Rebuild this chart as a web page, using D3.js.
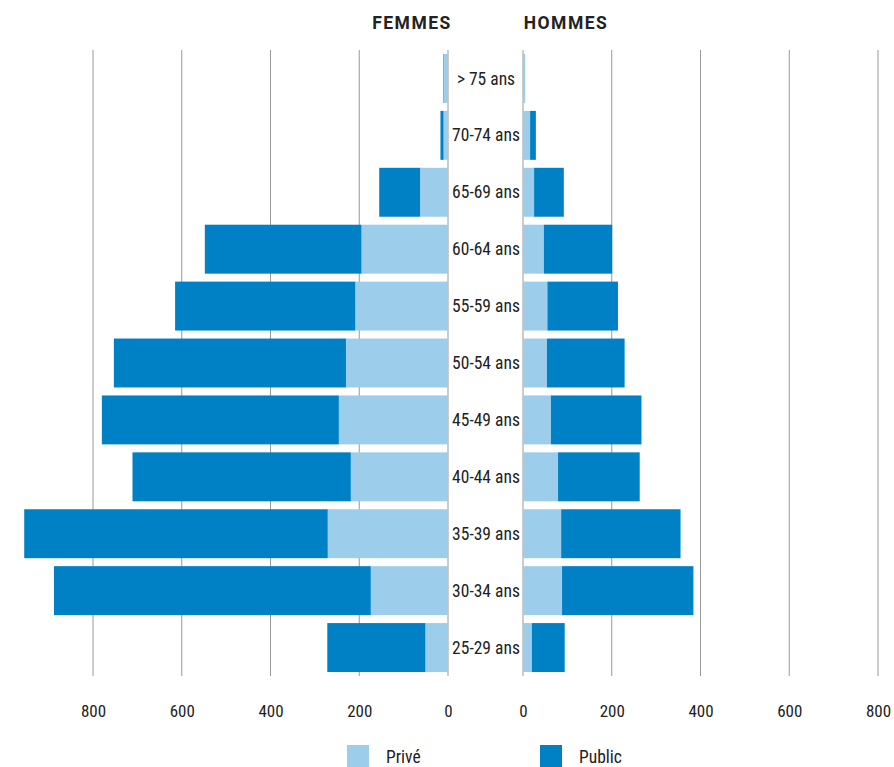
<!DOCTYPE html>
<html>
<head>
<meta charset="utf-8">
<script src="https://cdn.jsdelivr.net/npm/d3@7"></script>
<style>
  body { margin: 0; background: #fff; }
  svg text { font-family: "Roboto Condensed", "Liberation Sans Narrow", "DejaVu Sans Condensed", Roboto, sans-serif; fill: #222; }
</style>
</head>
<body>
<div id="chart"></div>
<script>
// age groups, top to bottom
const ages = ["> 75 ans", "70-74 ans", "65-69 ans", "60-64 ans", "55-59 ans", "50-54 ans",
              "45-49 ans", "40-44 ans", "35-39 ans", "30-34 ans", "25-29 ans"];

const femmesPrive  = [10, 10, 63, 195, 209, 230, 246, 219, 271, 174, 51];
const femmesPublic = [1, 7, 92, 353, 406, 523, 534, 492, 684, 714, 221];
const hommesPrive  = [5, 16, 25, 47, 55, 54, 63, 79, 86, 88, 20];
const hommesPublic = [0, 13, 67, 154, 159, 175, 204, 184, 269, 296, 74];

const tickValues = [0, 200, 400, 600, 800];
const legendLabels = ["Privé", "Public"];

const width = 894, height = 767;
const colPrive = "#9ccdea", colPublic = "#0081c6";

const svg = d3.select("#chart").append("svg")
    .attr("width", width)
    .attr("height", height);

// scales
const xLeft = d3.scaleLinear().domain([0, 800]).range([448, 93]);
const xRight = d3.scaleLinear().domain([0, 800]).range([523, 878]);
const y = d3.scaleBand().domain(ages).range([50, 676]).paddingInner(0.14).paddingOuter(0.07);

// gridlines
const grid = svg.append("g");
[xLeft, xRight].forEach(sc => {
    grid.selectAll(null)
        .data(tickValues)
        .join("line")
        .attr("x1", d => sc(d)).attr("x2", d => sc(d))
        .attr("y1", 50).attr("y2", 676)
        .attr("stroke", "#999")
        .attr("stroke-width", 1);
});

const rows = ages.map((a, i) => ({
    age: a,
    fPrive: femmesPrive[i], fPublic: femmesPublic[i],
    hPrive: hommesPrive[i], hPublic: hommesPublic[i]
}));

// bars femmes
const bars = svg.append("g");
bars.selectAll(".fpr")
    .data(rows).join("rect")
    .attr("x", d => xLeft(d.fPrive))
    .attr("y", d => y(d.age))
    .attr("width", d => xLeft(0) - xLeft(d.fPrive))
    .attr("height", y.bandwidth())
    .attr("fill", colPrive);
bars.selectAll(".fpu")
    .data(rows).join("rect")
    .attr("x", d => xLeft(d.fPrive + d.fPublic))
    .attr("y", d => y(d.age))
    .attr("width", d => xLeft(d.fPrive) - xLeft(d.fPrive + d.fPublic))
    .attr("height", y.bandwidth())
    .attr("fill", colPublic);

// bars hommes
bars.selectAll(".hpr")
    .data(rows).join("rect")
    .attr("x", xRight(0))
    .attr("y", d => y(d.age))
    .attr("width", d => xRight(d.hPrive) - xRight(0))
    .attr("height", y.bandwidth())
    .attr("fill", colPrive);
bars.selectAll(".hpu")
    .data(rows).join("rect")
    .attr("x", d => xRight(d.hPrive))
    .attr("y", d => y(d.age))
    .attr("width", d => xRight(d.hPrive + d.hPublic) - xRight(d.hPrive))
    .attr("height", y.bandwidth())
    .attr("fill", colPublic);

// age labels in the middle
svg.append("g").selectAll("text")
    .data(ages).join("text")
    .attr("x", 486)
    .attr("y", d => y(d) + y.bandwidth() / 2)
    .attr("dy", "0.35em")
    .attr("text-anchor", "middle")
    .style("font-size", "17.5px")
    .text(d => d);

// titles
svg.append("text").attr("x", 412).attr("y", 29).attr("text-anchor", "middle")
    .style("font-size", "17.5px").style("font-weight", "bold").style("letter-spacing", "1.5px")
    .style("font-family", "Roboto, sans-serif")
    .text("FEMMES");
svg.append("text").attr("x", 566).attr("y", 29).attr("text-anchor", "middle")
    .style("font-size", "17.5px").style("font-weight", "bold").style("letter-spacing", "1.5px")
    .style("font-family", "Roboto, sans-serif")
    .text("HOMMES");

// axes (labels only)
const axL = svg.append("g").attr("transform", "translate(0,700)")
    .call(d3.axisBottom(xLeft).tickValues(tickValues).tickSize(0).tickPadding(5));
const axR = svg.append("g").attr("transform", "translate(0,700)")
    .call(d3.axisBottom(xRight).tickValues(tickValues).tickSize(0).tickPadding(5));
[axL, axR].forEach(ax => {
    ax.select(".domain").remove();
    ax.selectAll("text")
        .style("font-size", "17px")
        .style("font-family", "\"Roboto Condensed\", \"Liberation Sans Narrow\", Roboto, sans-serif")
        .attr("fill", "#222");
});

// legend
const legend = svg.append("g");
const legX = [347, 540];
legend.selectAll("rect")
    .data(legendLabels).join("rect")
    .attr("x", (d, i) => legX[i]).attr("y", 745)
    .attr("width", 22).attr("height", 22)
    .attr("fill", (d, i) => i === 0 ? colPrive : colPublic);
legend.selectAll("text")
    .data(legendLabels).join("text")
    .attr("x", (d, i) => legX[i] + 39).attr("y", 763)
    .style("font-size", "17.5px")
    .text(d => d);
</script>
</body>
</html>
